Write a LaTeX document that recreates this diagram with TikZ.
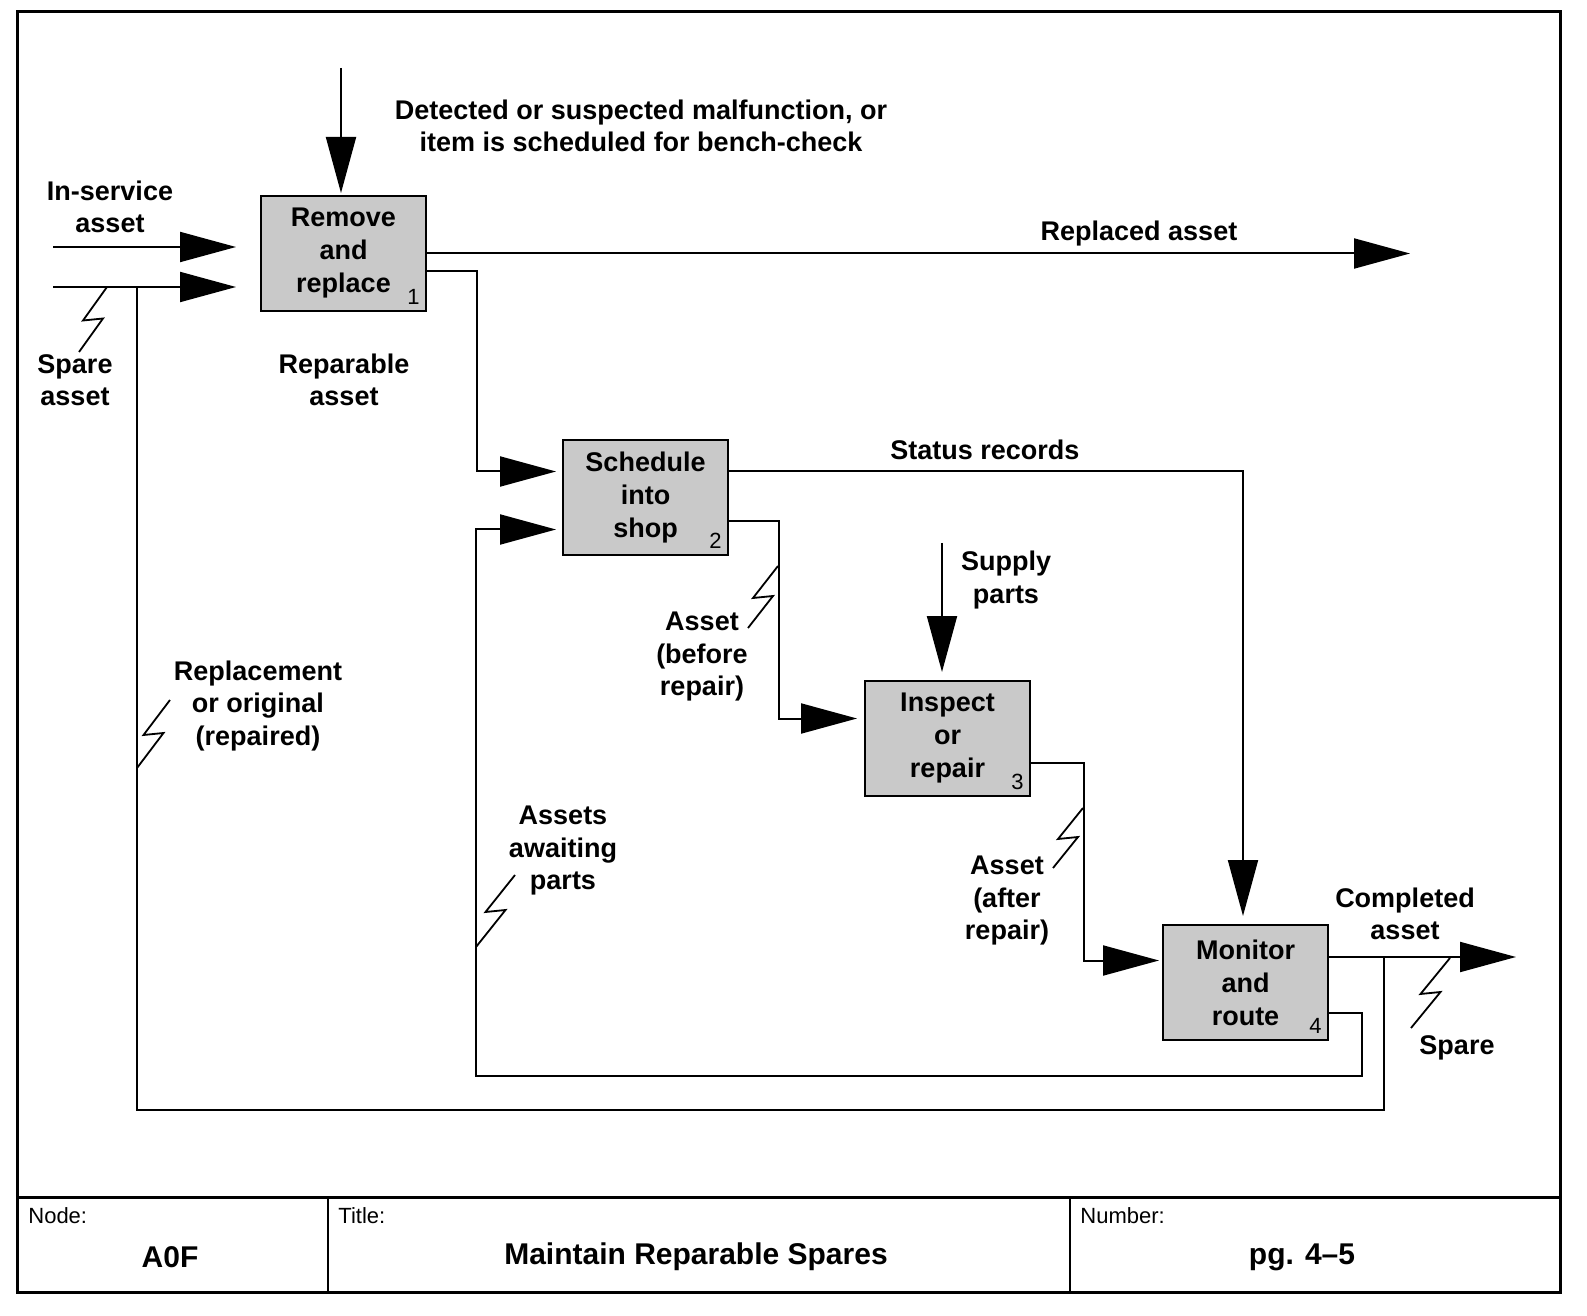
\documentclass[tikz,border=0pt]{standalone}
\usepackage{fontspec}
\setmainfont{Liberation Sans}
\usetikzlibrary{arrows.meta, positioning, calc}
\tikzset{%
  act/.style={draw, line width=1pt, fill=gray!42, minimum width=82.5pt, minimum height=57.5pt,
    inner sep=0pt, align=center, font=\bfseries\fontsize{13.5}{16.5}\selectfont},
  num/.style={anchor=south east, inner sep=3.5pt, font=\fontsize{11}{12}\selectfont},
  lbl/.style={align=center, inner sep=1pt, font=\bfseries\fontsize{13.5}{16.25}\selectfont},
  flow/.style={line width=1pt, -{Triangle[length=28pt,width=15pt]}},
  line/.style={line width=1pt},
  frame/.style={line width=1.5pt},
  foot/.style={anchor=west, inner sep=0pt, font=\fontsize{11}{12}\selectfont},
  title/.style={inner sep=0pt, font=\bfseries\fontsize{15}{18}\selectfont}
}
% tunnel mark between two points
\newcommand{\zap}[2]{\draw[line width=0.9pt] (#1) -- ($(#1)!0.5!(#2)+(-10,1)$) -- ($(#1)!0.5!(#2)+(10,-1)$) -- (#2);}

\begin{document}
\begin{tikzpicture}[x=0.5pt, y=-0.5pt]
  \useasboundingbox (0,0) rectangle (1587,1316);

  % frame and footer
  \draw[frame] (17,12) rectangle (1560,1292);
  \draw[frame] (17,1197) -- (1560,1197);
  \draw[line] (328,1197) -- (328,1292);
  \draw[line] (1070,1197) -- (1070,1292);
  \node[foot] (fnode) at (28,1216) {Node:};
  \node[foot] (ftitle) at (338,1216) {Title:};
  \node[foot] (fnumber) at (1080,1216) {Number:};
  \node[title] (a0f) at (170,1257) {A0F};
  \node[title] (name) at (696,1257) {Maintain Reparable Spares};
  \node[title] (page) at (1302,1257) {pg. 4–5};

  % activities
  \node[act] (remove) at (343.5,253.5) {Remove\\and\\replace};
  \node[act,below right=63.5pt and 67.5pt of remove] (schedule) {Schedule\\into\\shop};
  \node[act,below right=62pt and 67.5pt of schedule] (inspect) {Inspect\\or\\repair};
  \node[act,below right=63.5pt and 65.5pt of inspect] (monitor) {Monitor\\and\\route};
  \node[num] (n1) at (remove.south east) {1};
  \node[num] (n2) at (schedule.south east) {2};
  \node[num] (n3) at (inspect.south east) {3};
  \node[num] (n4) at (monitor.south east) {4};

  % free ends
  \coordinate (detect) at (341,68);
  \coordinate (inserv) at (53,247);
  \coordinate (spare) at (53,287);
  \coordinate (replaced) at (1410,254);
  \coordinate (supply) at (942,543);
  \coordinate (outc) at ([yshift=12.75pt]monitor.east);
  \coordinate[right=27.5pt of outc] (branch);
  \coordinate[right=93.5pt of outc] (done);
  \coordinate (retn) at (137,1110);
  \coordinate (wait) at (476,1076);

  % inputs and controls
  \draw[flow, shorten >=1pt] (detect) -- (detect |- remove.north);
  \draw[flow, shorten >=12pt] (inserv) -- (inserv -| remove.west);
  \draw[flow, shorten >=12pt] (spare) -- (spare -| remove.west);
  \draw[flow, shorten >=4pt] (supply) -- (supply |- inspect.north);

  % flows between activities
  \draw[flow] (remove.east) -- (remove.east -| replaced);
  \draw[flow, shorten >=3pt] ([yshift=-9pt]remove.east) -- ++(25pt,0) |- ([yshift=13pt]schedule.west);
  \draw[flow, shorten >=4pt] ([yshift=13pt]schedule.east) -| ([xshift=-1.25pt]monitor.north);
  \draw[flow, shorten >=3.5pt] ([yshift=-12pt]schedule.east) -- ++(25pt,0) |- ([yshift=10pt]inspect.west);
  \draw[flow, shorten >=1.5pt] ([yshift=-12pt]inspect.east) -- ++(26.5pt,0) |- ([yshift=11pt]monitor.west);
  \draw[flow] (outc) -- (done);

  % feedback loops
  \draw[flow, shorten >=3pt] ([yshift=-15.25pt]monitor.east) -- ++(16.5pt,0) |- (wait) |- ([yshift=-16pt]schedule.west);
  \draw[line] (branch) |- (retn) -- (retn |- spare);

  % tunnel marks
  \zap{107,287}{79,352}
  \zap{170,700}{137,768}
  \zap{515,875}{476,947}
  \zap{778,566}{748,628}
  \zap{1083,808}{1053,868}
  \zap{1450,958}{1411,1028}

  % labels
  \node[lbl] (ldetect) at (641,126) {Detected or suspected malfunction, or\\item is scheduled for bench-check};
  \node[lbl] (linserv) at (110,207) {In-service\\asset};
  \node[lbl] (lspare) at (75,380) {Spare\\asset};
  \node[lbl] (lreplaced) at (1139,234) {Replaced asset};
  \node[lbl] (lreparable) at (344,380) {Reparable\\asset};
  \node[lbl] (lstatus) at (985,450) {Status records};
  \node[lbl] (lsupply) at (1006,580) {Supply\\parts};
  \node[lbl] (lbefore) at (702,657) {Asset\\(before\\repair)};
  \node[lbl] (lreplacement) at (258,706) {Replacement\\or original\\(repaired)};
  \node[lbl] (lawait) at (563,851) {Assets\\awaiting\\parts};
  \node[lbl] (lafter) at (1007,901) {Asset\\(after\\repair)};
  \node[lbl] (lcompleted) at (1405,914) {Completed\\asset};
  \node[lbl] (lspareout) at (1457,1048) {Spare};
\end{tikzpicture}
\end{document}
